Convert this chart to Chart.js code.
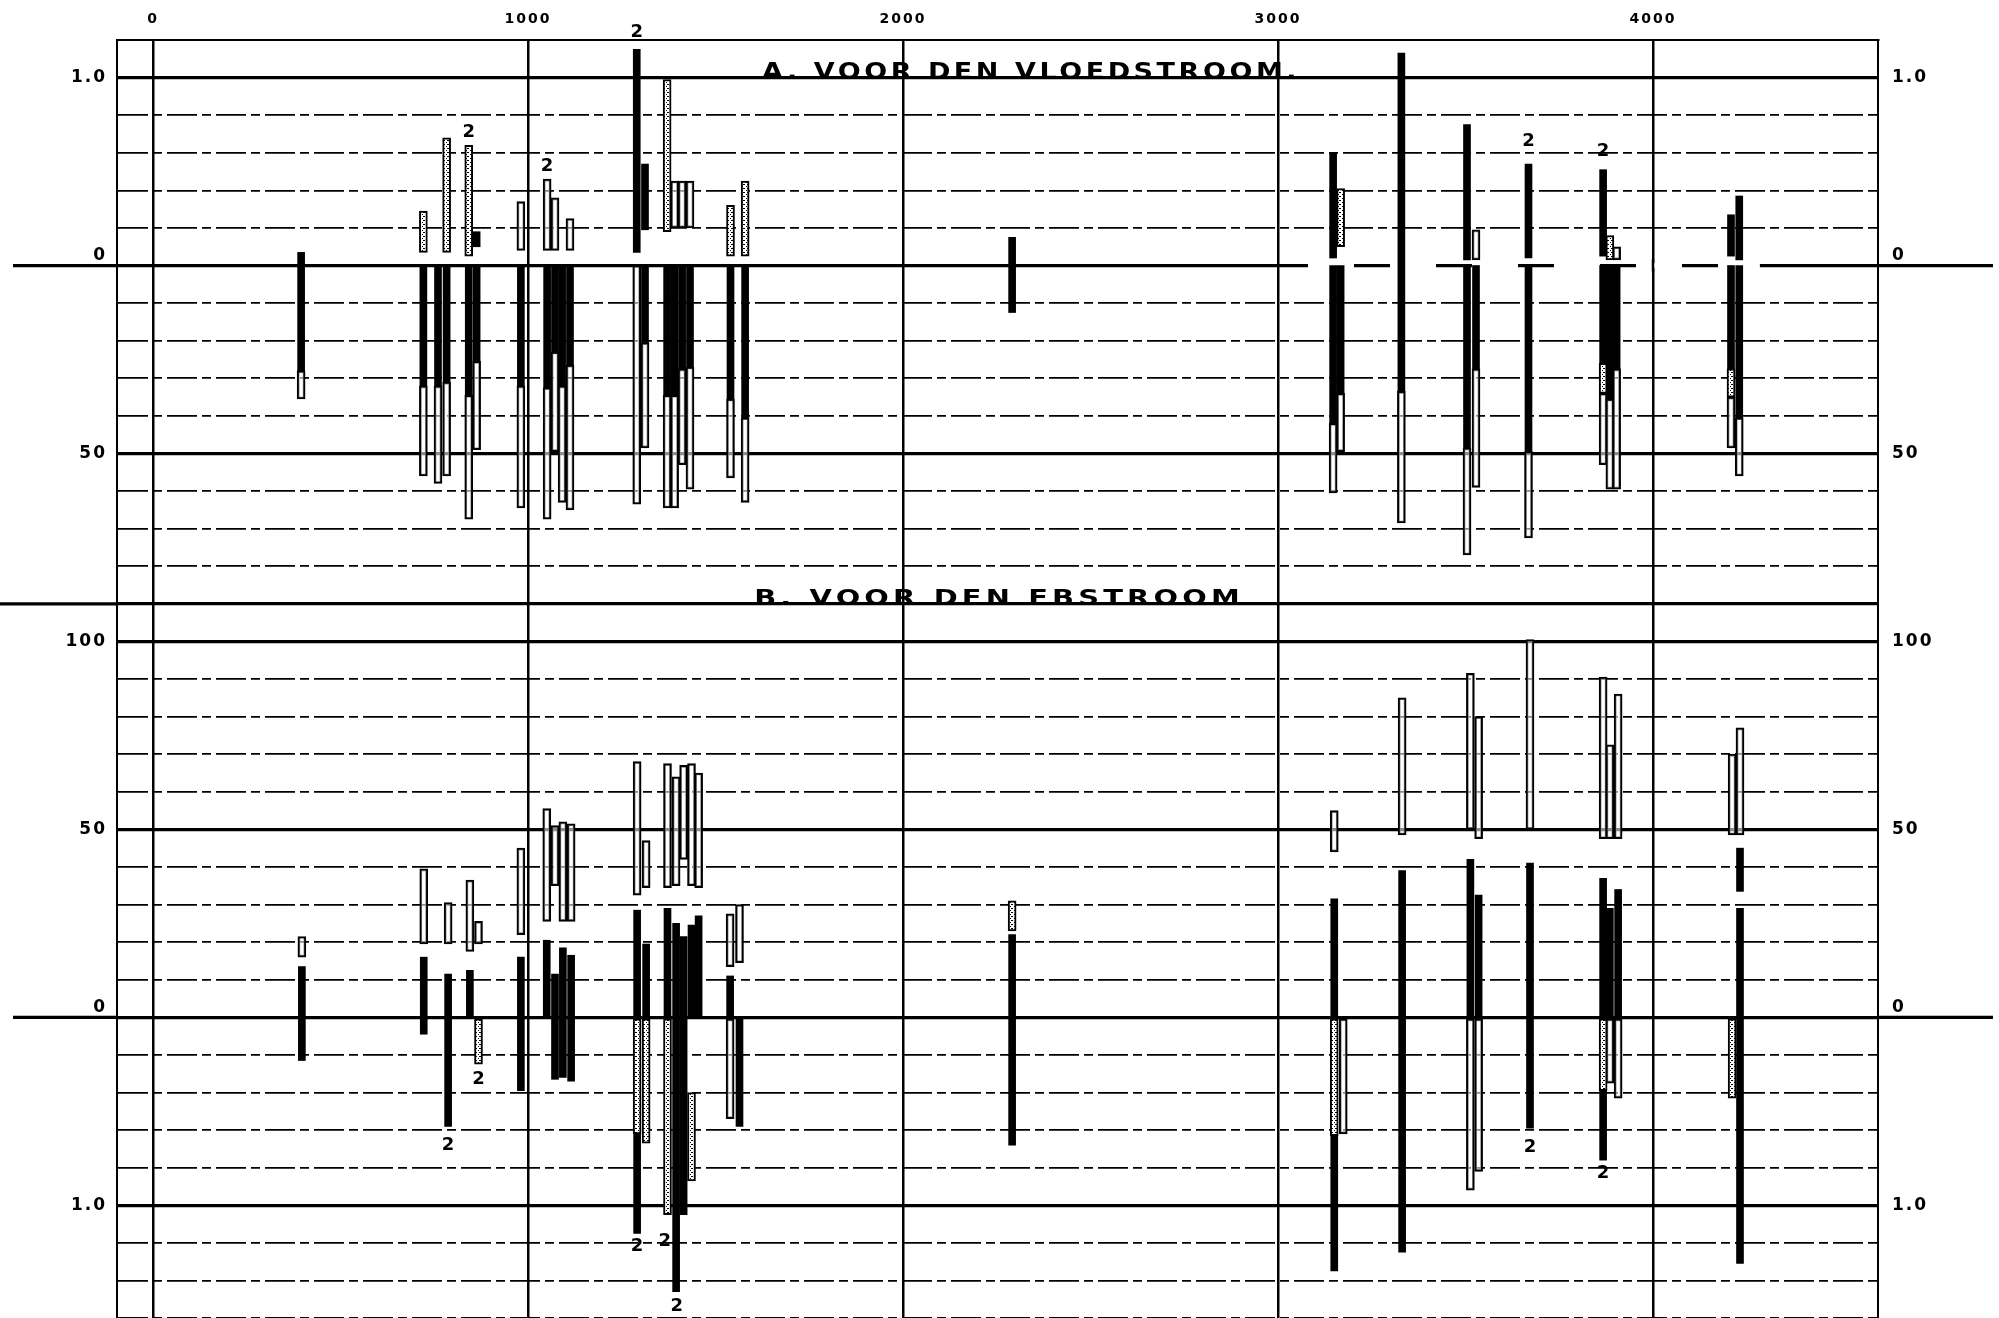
<!DOCTYPE html>
<html>
<head>
<meta charset="utf-8">
<script src="https://cdn.jsdelivr.net/npm/chart.js@4.4.0/dist/chart.umd.min.js"></script>
<style>
  html, body { margin: 0; padding: 0; background: #fff; }
  #wrap { width: 1999px; height: 1318px; }
</style>
</head>
<body>
<div id="wrap"><canvas id="chart" width="1999" height="1318"></canvas></div>
<script>
// distance ticks along the top
const xTicks = [0, 1000, 2000, 3000, 4000];

// panel A is drawn 4 units above panel B on the same axis
const panelOffset = 4;

// heavy lines and their labels (axis units, panel A already shifted)
const majorValues = [5, 4, 3, 2, 1, 0, -1];
const majorLabels = ['1.0', '0', '50', '100', '50', '0', '1.0'];
const zeroValues = [4, 0];
const separatorValue = 2.2;

// A. vloedstroom  [x, from, to]
const topBlack = [
  [395, -0.56, 0.07], [721, -0.64, 0], [760, -0.64, 0], [783, -0.62, 0],
  [842, -0.69, 0], [863, 0.10, 0.18], [863, -0.51, 0], [981, -0.64, 0],
  [1051, -0.65, 0], [1072, -0.46, 0], [1091, -0.64, 0], [1112, -0.53, 0],
  [1290, 0.07, 1.15], [1312, 0.19, 0.54], [1312, -0.41, 0], [1371, -0.69, 0],
  [1391, -0.69, 0], [1411, -0.55, 0], [1432, -0.54, 0], [1540, -0.71, 0],
  [1579, -0.81, 0], [2291, -0.25, 0.15], [3147, 0.04, 0.60], [3147, -0.84, 0],
  [3167, -0.68, 0], [3329, -0.67, 1.13], [3504, 0.03, 0.75], [3504, -0.97, 0],
  [3528, -0.55, 0], [3668, 0.04, 0.54], [3668, -0.99, 0], [3867, 0.05, 0.51],
  [3867, -0.52, 0], [3885, -0.71, 0], [3903, -0.55, 0], [4208, 0.05, 0.27],
  [4208, -0.55, 0], [4230, 0.03, 0.37], [4230, -0.81, 0]
];
const topHollow = [
  [395, -0.71, -0.56], [721, -1.12, -0.64], [760, -1.16, -0.64], [783, -1.12, -0.62],
  [842, -1.35, -0.69], [863, -0.98, -0.51], [981, 0.08, 0.34], [981, -1.29, -0.64],
  [1051, 0.08, 0.46], [1051, -1.35, -0.65], [1072, 0.08, 0.36], [1072, -0.99, -0.46],
  [1091, -1.26, -0.64], [1112, 0.08, 0.25], [1112, -1.30, -0.53], [1290, -1.27, 0],
  [1312, -0.97, -0.41], [1371, -1.29, -0.69], [1391, 0.20, 0.45], [1391, -1.29, -0.69],
  [1411, 0.20, 0.45], [1411, -1.06, -0.55], [1432, 0.20, 0.45], [1432, -1.19, -0.54],
  [1540, -1.13, -0.71], [1579, -1.26, -0.81], [3147, -1.21, -0.84], [3167, -0.99, -0.68],
  [3329, -1.37, -0.67], [3504, -1.54, -0.97], [3528, 0.03, 0.19], [3528, -1.18, -0.55],
  [3668, -1.45, -0.99], [3867, -1.06, -0.68], [3885, -1.19, -0.71], [3903, 0.03, 0.10],
  [3903, -1.19, -0.55], [4208, -0.97, -0.70], [4230, -1.12, -0.81]
];
const topStipple = [
  [721, 0.07, 0.29], [783, 0.07, 0.68], [842, 0.05, 0.64], [1371, 0.18, 0.99],
  [1540, 0.05, 0.32], [1579, 0.05, 0.45], [3167, 0.10, 0.41], [3867, -0.68, -0.52],
  [3885, 0.03, 0.16], [4208, -0.70, -0.55]
];

// B. ebstroom  [x, from, to]
const botBlack = [
  [397, -0.23, 0.27], [722, -0.09, 0.32], [787, -0.58, 0.23], [845, 0, 0.25],
  [981, -0.39, 0.32], [1050, 0, 0.41], [1072, -0.33, 0.23], [1093, -0.32, 0.37],
  [1115, -0.34, 0.33], [1291, 0, 0.57], [1291, -1.15, -0.62], [1315, 0, 0.39],
  [1372, 0, 0.58], [1395, -1.46, 0.50], [1415, -1.05, 0.43], [1436, 0, 0.49],
  [1455, 0, 0.54], [1539, 0, 0.22], [1564, -0.58, 0], [2291, -0.68, 0.44],
  [3150, 0, 0.63], [3150, -1.35, -0.63], [3331, -1.25, 0.78], [3513, 0, 0.84],
  [3535, 0, 0.65], [3672, -0.59, 0.82], [3867, 0, 0.74], [3867, -0.76, -0.39],
  [3885, 0, 0.58], [3907, 0, 0.68], [4232, 0.67, 0.90], [4232, -1.31, 0.58]
];
const botHollow = [
  [397, 0.32, 0.43], [722, 0.39, 0.79], [787, 0.39, 0.61], [845, 0.35, 0.73],
  [868, 0.39, 0.51], [981, 0.44, 0.90], [1050, 0.51, 1.11], [1072, 0.70, 1.02],
  [1093, 0.51, 1.04], [1115, 0.51, 1.03], [1291, 0.65, 1.36], [1315, 0.69, 0.94],
  [1372, 0.69, 1.35], [1395, 0.70, 1.28], [1415, 0.84, 1.34], [1436, 0.70, 1.35],
  [1455, 0.69, 1.30], [1539, 0.27, 0.55], [1539, -0.54, 0], [1564, 0.29, 0.60],
  [3150, 0.88, 1.10], [3174, -0.62, 0], [3331, 0.97, 1.70], [3513, 1.00, 1.83],
  [3513, -0.92, 0], [3535, 0.95, 1.60], [3535, -0.82, 0], [3672, 1.00, 2.01],
  [3867, 0.95, 1.81], [3885, 0.95, 1.45], [3885, -0.35, 0], [3907, 0.95, 1.72],
  [3907, -0.43, 0], [4211, 0.97, 1.40], [4232, 0.97, 1.54]
];
const botStipple = [
  [868, -0.25, 0], [1291, -0.62, 0], [1315, -0.67, 0], [1372, -1.05, 0],
  [1436, -0.87, -0.40], [2291, 0.46, 0.62], [3150, -0.63, 0], [3867, -0.39, 0],
  [4211, -0.43, 0]
];

// the little "2" marks  [x, y]
const topNotes = [[842, 0.71], [1051, 0.53], [1290, 1.24], [3668, 0.66], [3867, 0.61]];
const botNotes = [[787, -0.68], [868, -0.33], [1291, -1.22], [1365, -1.19], [1397, -1.54], [3672, -0.69], [3867, -0.83]];

const titles = ['A. VOOR DEN VLOEDSTROOM.', 'B. VOOR DEN EBSTROOM'];
const titleFrom = [1624, 1603];
const titleTo = [3059, 2909];
const titleY = [5, 2.2];
const titleSize = [23, 21];

// dashed stretch of the A zero line
const dashedZero = [3080, 4285];

const FONT = '"DejaVu Sans", sans-serif';

const toPoints = (rows, shift) => rows.map(([x, a, b]) => ({ x: x, y: [a + shift, b + shift] }));

function isHeavy(v) {
  return majorValues.some(m => Math.abs(m - v) < 1e-6) || Math.abs(v - separatorValue) < 1e-6;
}

function yLabel(v) {
  const i = majorValues.findIndex(m => Math.abs(m - v) < 1e-6);
  if (i < 0) return '';
  return zeroValues.includes(majorValues[i]) ? [majorLabels[i], ''] : majorLabels[i];
}

function gridTicks(scale) {
  const t = [];
  for (let i = -8; i <= 26; i++) t.push({ value: Math.round(i * 2) / 10 });
  scale.ticks = t;
}

function stipplePattern() {
  const c = document.createElement('canvas');
  c.width = 4; c.height = 4;
  const g = c.getContext('2d');
  g.fillStyle = '#fff';
  g.fillRect(0, 0, 4, 4);
  g.fillStyle = '#000';
  g.fillRect(0, 0, 1, 1);
  g.fillRect(2, 2, 1, 1);
  g.fillRect(3, 0, 1, 1);
  return g.createPattern(c, 'repeat');
}

const sheet = {
  id: 'sheet',
  beforeDraw(chart) {
    chart.ctx.letterSpacing = '2px';
  },
  beforeDatasetsDraw(chart) {
    // break the A zero line into long dashes on the right, then patch the verticals
    const { ctx, scales: { x, y } } = chart;
    const py = y.getPixelForValue(zeroValues[0]);
    ctx.save();
    ctx.strokeStyle = '#fff';
    ctx.lineWidth = 5;
    ctx.setLineDash([46, 36]);
    ctx.beginPath();
    ctx.moveTo(x.getPixelForValue(dashedZero[0]), py);
    ctx.lineTo(x.getPixelForValue(dashedZero[1]), py);
    ctx.stroke();
    ctx.setLineDash([]);
    ctx.strokeStyle = '#000';
    ctx.lineWidth = 2.5;
    xTicks.filter(v => v > dashedZero[0] && v < dashedZero[1]).forEach(v => {
      const px = x.getPixelForValue(v);
      ctx.beginPath();
      ctx.moveTo(px, py - 6); ctx.lineTo(px, py + 6);
      ctx.stroke();
    });
    ctx.restore();
  },
  afterDraw(chart) {
    const { ctx, chartArea: a, scales: { x, y } } = chart;
    ctx.save();
    ctx.strokeStyle = '#000';
    ctx.lineWidth = 3.2;
    zeroValues.forEach(z => {
      const py = y.getPixelForValue(z);
      ctx.beginPath();
      ctx.moveTo(13, py); ctx.lineTo(a.left, py);
      ctx.moveTo(a.right, py); ctx.lineTo(chart.width - 6, py);
      ctx.stroke();
    });
    const sy = y.getPixelForValue(separatorValue);
    ctx.beginPath();
    ctx.moveTo(0, sy); ctx.lineTo(a.left, sy);
    ctx.stroke();

    ctx.fillStyle = '#000';
    titles.forEach((t, i) => {
      ctx.save();
      ctx.font = 'bold ' + titleSize[i] + 'px ' + FONT;
      ctx.letterSpacing = '3px';
      const w0 = ctx.measureText(t).width;
      const x0 = x.getPixelForValue(titleFrom[i]);
      const target = x.getPixelForValue(titleTo[i]) - x0;
      ctx.textAlign = 'left';
      ctx.textBaseline = 'alphabetic';
      ctx.translate(x0, y.getPixelForValue(titleY[i]) + 1);
      ctx.scale(target / w0, 1);
      ctx.fillText(t, 0, 0);
      ctx.restore();
    });

    ctx.letterSpacing = '0px';
    ctx.font = 'bold 18px ' + FONT;
    ctx.textAlign = 'center';
    ctx.textBaseline = 'middle';
    topNotes.forEach(([nx, ny]) => ctx.fillText('2', x.getPixelForValue(nx), y.getPixelForValue(ny + panelOffset)));
    botNotes.forEach(([nx, ny]) => ctx.fillText('2', x.getPixelForValue(nx), y.getPixelForValue(ny)));
    ctx.restore();
  }
};

const yCommon = {
  type: 'linear',
  min: -1.6,
  max: 5.2,
  afterBuildTicks: gridTicks,
  ticks: {
    autoSkip: false,
    color: '#000',
    font: { family: FONT, size: 17, weight: 'bold' },
    callback: (v) => yLabel(v)
  }
};

new Chart(document.getElementById('chart'), {
  type: 'bar',
  data: {
    datasets: [
      {
        label: 'open',
        data: toPoints(topHollow, panelOffset).concat(toPoints(botHollow, 0)),
        backgroundColor: 'rgba(255,255,255,0.55)',
        borderColor: '#000',
        borderWidth: 2,
        borderSkipped: false,
        barThickness: 8,
        stack: 'all',
        order: 3
      },
      {
        label: 'gestippeld',
        data: toPoints(topStipple, panelOffset).concat(toPoints(botStipple, 0)),
        backgroundColor: stipplePattern(),
        borderColor: '#000',
        borderWidth: 2,
        borderSkipped: false,
        barThickness: 8,
        stack: 'all',
        order: 2
      },
      {
        label: 'zwart',
        data: toPoints(topBlack, panelOffset).concat(toPoints(botBlack, 0)),
        backgroundColor: '#000',
        borderWidth: 0,
        barThickness: 7,
        stack: 'all',
        order: 1
      }
    ]
  },
  options: {
    responsive: false,
    animation: false,
    devicePixelRatio: 1,
    layout: { padding: 0 },
    plugins: { legend: { display: false }, tooltip: { enabled: false } },
    scales: {
      x: {
        type: 'linear',
        position: 'top',
        min: -96,
        max: 4600,
        offset: false,
        afterBuildTicks: (s) => { s.ticks = xTicks.map(v => ({ value: v })); },
        afterFit: (s) => { s.height = 40; s.paddingLeft = 0; s.paddingRight = 0; },
        grid: { color: '#000', lineWidth: 2.5, drawTicks: false, offset: false },
        border: { color: '#000', width: 2 },
        ticks: {
          autoSkip: false,
          padding: 12,
          color: '#000',
          font: { family: FONT, size: 14, weight: 'bold' },
          callback: (v) => String(v)
        }
      },
      y: Object.assign({}, yCommon, {
        position: 'left',
        stacked: false,
        afterFit: (s) => { s.width = 117; s.paddingTop = 0; s.paddingBottom = 0; },
        grid: {
          color: '#000',
          drawTicks: false,
          lineWidth: (c) => (c.tick && isHeavy(c.tick.value)) ? 3.2 : 1.7
        },
        border: {
          color: '#000',
          width: 2,
          dash: (c) => (!c.tick || isHeavy(c.tick.value)) ? [] : [30, 5, 9, 5]
        },
        ticks: Object.assign({}, yCommon.ticks, { padding: 10 })
      }),
      y2: Object.assign({}, yCommon, {
        position: 'right',
        afterFit: (s) => { s.width = 121; s.paddingTop = 0; s.paddingBottom = 0; },
        grid: { drawOnChartArea: false, drawTicks: false },
        border: { color: '#000', width: 2 },
        ticks: Object.assign({}, yCommon.ticks, { padding: 14 })
      })
    }
  },
  plugins: [sheet]
});
</script>
</body>
</html>
